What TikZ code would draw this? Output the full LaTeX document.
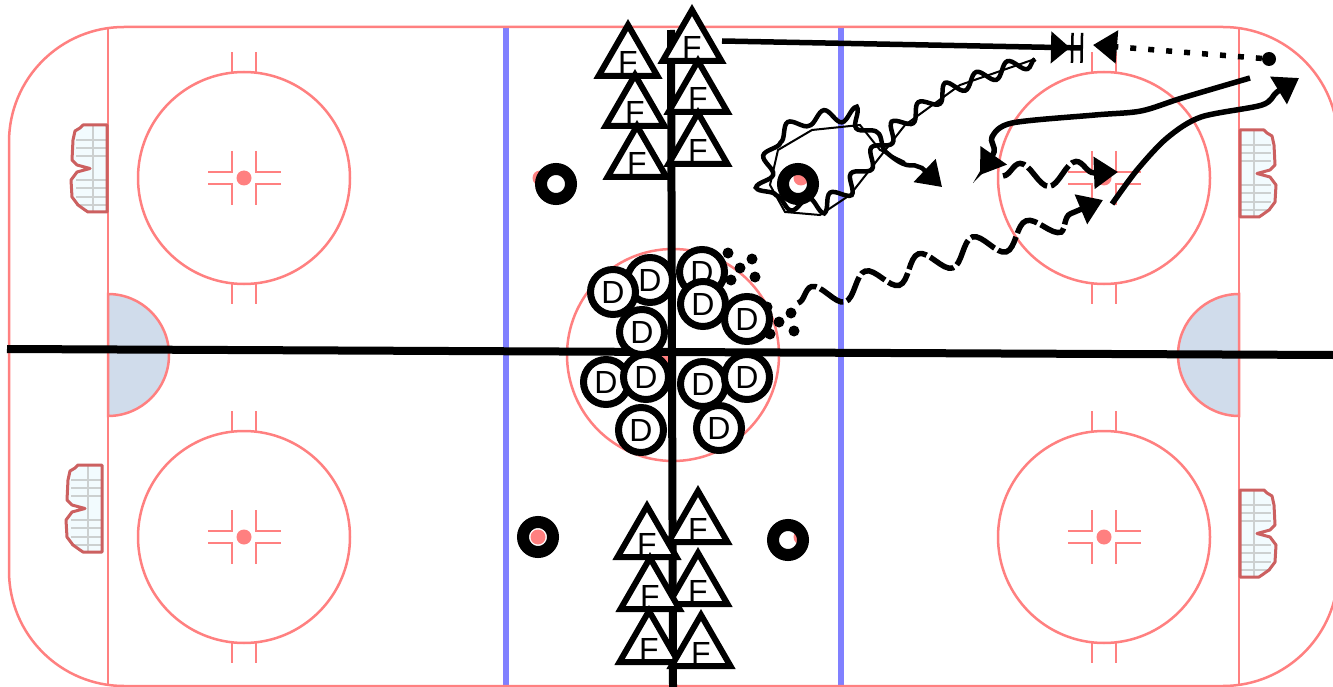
\documentclass[tikz,border=0pt]{standalone}
\usepackage{fontspec}
\setmainfont{Liberation Sans}
\usetikzlibrary{arrows.meta,shapes.geometric,decorations.pathmorphing}
\definecolor{rinkred}{HTML}{FF8080}
\definecolor{bluepaint}{HTML}{8080FF}
\definecolor{creasefill}{HTML}{D0DCEB}
\definecolor{goalred}{HTML}{CC6060}
\definecolor{netgrey}{HTML}{CCD0D0}
\newcommand{\fmark}{\smash{\raisebox{-15pt}{F}}}
\begin{document}
\begin{tikzpicture}[
    x=1pt, y=-1pt,
    rinkline/.style={draw=rinkred, line width=2.5pt},
    blueline/.style={draw=bluepaint, line width=6.5pt},
    drawline/.style={line width=8pt},
    crease/.style={draw=rinkred, line width=2.5pt, fill=creasefill},
    spot/.style={circle, fill=rinkred, inner sep=0pt, minimum size=15pt},
    ring/.style={circle, draw, line width=12pt, inner sep=0pt, minimum size=30pt},
    fwd/.style={regular polygon, regular polygon sides=3, draw, fill=white, line width=6pt,
        inner sep=0pt, minimum size=68pt, font=\fontsize{32}{32}\selectfont},
    def/.style={circle, draw, fill=white, line width=7pt, inner sep=0pt, minimum size=45pt, font=\fontsize{32}{32}\selectfont},
    puck/.style={circle, fill=black, inner sep=0pt, minimum size=11pt},
    coach/.style={circle, fill=black, inner sep=0pt, minimum size=14pt},
    headtip/.style={-{Triangle[length=24pt, width=31pt]}},
    skate/.style={line width=5.5pt, headtip},
    stopskate/.style={line width=5.5pt, -{Triangle[length=19pt, width=31pt, sep=1pt]Bar[width=30pt, line width=2.5pt, sep=7pt]Bar[width=30pt, line width=2.5pt]}},
    passline/.style={line width=5.5pt, dash pattern=on 6pt off 12pt, -{Triangle[length=24pt, width=32pt]}},
    carry/.style={line width=4.5pt, headtip, decorate,
        decoration={snake, segment length=33pt, amplitude=7pt, post length=22pt}},
    carrythin/.style={line width=2pt},
    carrywide/.style={line width=5.5pt, headtip, dash pattern=on 27pt off 4pt, decorate,
        decoration={snake, segment length=56pt, amplitude=12pt, post length=20pt}},
    faceoff/.pic={
        \draw[rinkline] (0,0) circle[radius=106];
        \draw[rinkline] (-12,-106) -- (-12,-126) (12,-106) -- (12,-126) (-12,106) -- (-12,126) (12,106) -- (12,126);
        \draw[rinkline] (-12,-27) -- (-12,-6) -- (-36,-6) (12,-27) -- (12,-6) -- (37,-6);
        \draw[rinkline] (-12,27) -- (-12,6) -- (-36,6) (12,27) -- (12,6) -- (37,6);
    },
    goal/.pic={
        \fill[white!95!cyan] (0,0) -- (24,0) -- (27,3) -- (32,6) -- (34,15) -- (35,35) -- (30,40) -- (17,43.5)
            -- (30,47) -- (36,55) -- (35,72) -- (29,80) -- (22,85) -- (19,87) -- (0,87) -- cycle;
        \draw[netgrey, line width=1.5pt] (14,1) -- (14,86);
        \foreach \v in {15,23,31,55,63,72,80}
            \draw[netgrey, line width=1.5pt] (1,\v) -- (31,\v);
        \draw[goalred, line width=3pt, line join=round] (0,0) -- (24,0) -- (27,3) -- (32,6) -- (34,15) -- (35,35) -- (30,40) -- (17,43.5)
            -- (30,47) -- (36,55) -- (35,72) -- (29,80) -- (22,85) -- (19,87) -- (0,87) -- cycle;
    }
]
\clip (0,0) rectangle (1333,687);
\fill[white] (0,0) rectangle (1333,687);
% rink
\draw[blueline] (506,27) -- (506,686);
\draw[blueline] (841,27) -- (841,686);
\draw[crease] (108,294) arc[start angle=-90, end angle=90, radius=61] -- cycle;
\draw[crease] (1239,294) arc[start angle=270, end angle=90, radius=61] -- cycle;
\draw[rinkline] (108,27) -- (108,686);
\draw[rinkline] (1239,27) -- (1239,686);
\draw[rinkline, rounded corners=115pt] (9,27) rectangle (1338,686);
\draw[rinkline] (673,355) circle[radius=106];
\pic at (244,178) {faceoff};
\pic at (244,537) {faceoff};
\pic at (1104,178) {faceoff};
\pic at (1104,537) {faceoff};
\pic[xscale=-1] at (107,125) {goal};
\pic[xscale=-1] at (102,465) {goal};
\pic at (1240,130) {goal};
\pic at (1240,490) {goal};
\node[spot] (spotlt) at (244,178) {};
\node[spot] (spotlb) at (244,537) {};
\node[spot] (spotrt) at (1104,178) {};
\node[spot] (spotrb) at (1104,537) {};
\node[spot] (spotc) at (667,357) {};
\node[spot] (spotna) at (540,178) {};
\node[spot] (spotnb) at (801,178) {};
\node[spot] (spotnc) at (538,537) {};
\node[spot] (spotnd) at (801,537) {};
% halves
\coordinate (leftend) at (7,349);
\coordinate (rightend) at (1333,355);
\coordinate (topend) at (671,30);
\coordinate (botend) at (673,687);
\draw[drawline] (leftend) -- (rightend);
\draw[drawline] (topend) -- (botend);
% pylons
\node[ring] (ringa) at (556,184) {};
\node[ring] (ringb) at (798,184) {};
\node[ring] (ringc) at (538,537) {};
\node[ring] (ringd) at (788,540) {};
% pucks
\node[puck] (pa) at (728,253) {};
\node[puck] (pb) at (752,259) {};
\node[puck] (pc) at (740,268) {};
\node[puck] (pd) at (755,277) {};
\node[puck] (pe) at (731,280) {};
\node[puck] (pf) at (767,307) {};
\node[puck] (pg) at (791,313) {};
\node[puck] (ph) at (779,322) {};
\node[puck] (pi) at (794,331) {};
\node[puck] (pj) at (770,334) {};
% defence
\node[def] (db) at (650,280) {D};
\node[def] (da) at (613,292) {D};
\node[def] (dd) at (642,332) {D};
\node[def] (dc) at (702,272) {D};
\node[def] (de) at (703,304) {D};
\node[def] (df) at (747,319) {D};
\node[def] (dg) at (606,382) {D};
\node[def] (dh) at (646,377) {D};
\node[def] (di) at (703,384) {D};
\node[def] (dj) at (747,377) {D};
\node[def] (dk) at (641,430) {D};
\node[def] (dl) at (719,428) {D};
% forwards
\node[fwd] (fa) at (692,44) {\fmark};
\node[fwd] (fb) at (698,95) {\fmark};
\node[fwd] (fc) at (698,147) {\fmark};
\node[fwd] (fd) at (628,59) {\fmark};
\node[fwd] (fe) at (635,109) {\fmark};
\node[fwd] (ff) at (637,160) {\fmark};
\node[fwd] (fg) at (698,525) {\fmark};
\node[fwd] (fh) at (698,587) {\fmark};
\node[fwd] (fi) at (647,540) {\fmark};
\node[fwd] (fj) at (650,592) {\fmark};
\node[fwd] (fk) at (649,645) {\fmark};
\node[fwd] (fl) at (701,649) {\fmark};
% play
\node[coach] (coachdot) at (1269,59) {};
\coordinate (passstart) at (722,41);
\coordinate (stopend) at (1083,48);
\coordinate (passend) at (1093,45);
\coordinate (skateastart) at (1250,78);
\coordinate (skateaend) at (980,175);
\coordinate (skatebstart) at (1112,204);
\coordinate (skatebend) at (1299,78);
\coordinate (carryastart) at (1035,59);
\coordinate (carryaend) at (942,187);
\coordinate (carrybstart) at (798,303);
\coordinate (carrybend) at (1103,200);
\coordinate (carrycstart) at (1003,176);
\coordinate (carrycend) at (1118,172);
\draw[stopskate] (passstart) -- (stopend);
\draw[passline] (coachdot) -- (passend);
\draw[skate] plot[smooth, tension=0.5] coordinates {(skateastart) (1182,98) (1141,111) (1095,115) (1012,123) (992,137) (994,152) (skateaend)};
\draw[skate] plot[smooth, tension=0.5] coordinates {(skatebstart) (1137,170) (1167,138) (1201,117) (1262,105) (1277,92) (skatebend)};
\draw[carrythin] (carryastart) -- (960,85) -- (905,125) -- (850,195) -- (820,215) -- (785,212) -- (770,185) -- (778,150) -- (812,130) -- (860,125) -- (880,150) -- (905,162);
\draw[carry] (carryastart) -- (960,85) -- (905,125) -- (850,195) -- (820,215) -- (785,212) -- (770,185) -- (778,150) -- (812,130) -- (860,125) -- (880,150) -- (905,162) -- (922,168) -- (carryaend);
\draw[carrywide] (carrybstart) -- (850,288) -- (930,262) -- (1020,235) -- (carrybend);
\draw[carrywide] (carrycstart) -- (carrycend);
\end{tikzpicture}
\end{document}
